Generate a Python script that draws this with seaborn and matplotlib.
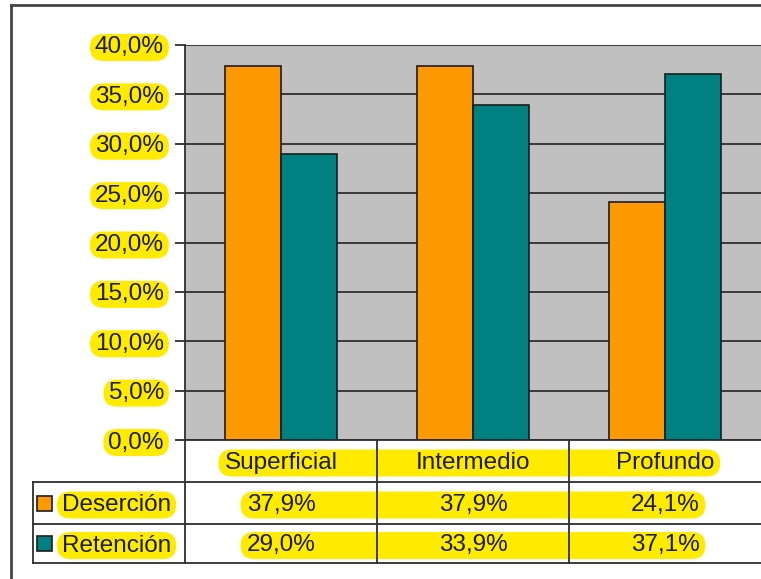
import matplotlib
matplotlib.use("Agg")
import matplotlib.pyplot as plt
from matplotlib.patches import FancyBboxPatch, Rectangle
import pandas as pd
import seaborn as sns

# data
categorias = ["Superficial", "Intermedio", "Profundo"]
series = ["Deserción", "Retención"]
desercion = [37.9, 37.9, 24.1]
retencion = [29.0, 33.9, 37.1]
y_ticks = [0, 5, 10, 15, 20, 25, 30, 35, 40]

colores = ["#FF9900", "#008080"]
amarillo = "#FFEB00"
tinta = "#1c1c1c"
linea = "#2e2e2e"

plt.rcParams["font.family"] = ["Liberation Sans", "DejaVu Sans"]
FS = 17.5

df = pd.DataFrame({
    "nivel": categorias * 2,
    "valor": desercion + retencion,
    "serie": [series[0]] * 3 + [series[1]] * 3,
})

W, H = 761, 579
fig = plt.figure(figsize=(W / 100, H / 100), dpi=100)

# layout in pixels
px_left, px_right = 185, 761
px_top, px_zero = 45, 440
row_lines = [440, 482, 524, 563]
leg_left = 33

ax = fig.add_axes([px_left / W, 1 - px_zero / H, (px_right - px_left) / W,
                   (px_zero - px_top) / H])
ax.set_zorder(1)

# overlay in pixel coords for the table part
ov = fig.add_axes([0, 0, 1, 1])
ov.set_zorder(0)
ov.set_xlim(0, W)
ov.set_ylim(H, 0)
ov.axis("off")
ov.patch.set_alpha(0)

sns.barplot(data=df, x="nivel", y="valor", hue="serie", palette=colores,
            width=0.58, saturation=1, edgecolor=tinta, linewidth=1.2,
            ax=ax, legend=False)

ax.set_facecolor("#C0C0C0")
ax.set_xlim(-0.5, 2.5)
ax.set_ylim(0, 40)
ax.set_xlabel("")
ax.set_ylabel("")
ax.set_yticks(y_ticks)
ax.set_yticklabels([f"{v:.1f}%".replace(".", ",") for v in y_ticks],
                   fontsize=FS, color=tinta)
ax.tick_params(axis="y", length=10 * 0.72, width=1.3, color=linea, pad=8)
ax.tick_params(axis="x", length=0, labelbottom=False)
ax.yaxis.grid(True, color=linea, linewidth=1.3)
ax.set_axisbelow(True)
for s in ["top", "right"]:
    ax.spines[s].set_visible(False)
for s in ["left", "bottom"]:
    ax.spines[s].set_color(linea)
    ax.spines[s].set_linewidth(1.3)

# outer frame (cut off on right and bottom)
ov.plot([11, 11], [5, H], color="#444444", lw=2)
ov.plot([11, W], [5, 5], color="#444444", lw=2)

# table grid
col_w = (px_right - px_left) / len(categorias)
col_edges = [px_left + i * col_w for i in range(len(categorias) + 1)]
for x in col_edges[:-1]:
    ov.plot([x, x], [row_lines[0], row_lines[-1]], color=linea, lw=1.3)
for y in row_lines[1:]:
    ov.plot([leg_left, W], [y, y], color=linea, lw=1.3)
ov.plot([leg_left, leg_left], [row_lines[1], row_lines[-1]], color=linea, lw=1.3)

centers = [px_left + (i + 0.5) * col_w for i in range(len(categorias))]
row_mid = [(row_lines[i] + row_lines[i + 1]) / 2 + 2 for i in range(3)]

row_texts = []
row_texts.append([ov.text(cx, row_mid[0], c, ha="center", va="center",
                          fontsize=FS, color=tinta, zorder=5)
                  for cx, c in zip(centers, categorias)])
for r, vals in enumerate([desercion, retencion]):
    row_texts.append([ov.text(cx, row_mid[r + 1], f"{v:.1f}%".replace(".", ","),
                              ha="center", va="center", fontsize=FS,
                              color=tinta, zorder=5)
                      for cx, v in zip(centers, vals)])

# legend column
leg_texts = []
for r, (name, col) in enumerate(zip(series, colores)):
    ym = row_mid[r + 1] - 2
    ov.add_patch(Rectangle((37, ym - 7.5), 15, 15, facecolor=col,
                           edgecolor=tinta, lw=1.2, zorder=5))
    leg_texts.append(ov.text(62, ym + 2, name, ha="left", va="center",
                             fontsize=FS, color=tinta, zorder=5))

fig.canvas.draw()


def to_px(bb):
    return bb.x0, H - bb.y1, bb.x1, H - bb.y0


def highlight(x0, y0, x1, y1, padx=6, pady=2.5):
    x0, x1 = x0 - padx, x1 + padx
    y0, y1 = y0 - pady, y1 + pady
    r = (y1 - y0) / 2
    ov.add_patch(FancyBboxPatch((x0, y0), x1 - x0, y1 - y0,
                                boxstyle=f"round,pad=0,rounding_size={r}",
                                facecolor=amarillo, edgecolor="none", zorder=1))


for row in row_texts:
    a = to_px(row[0].get_window_extent())
    b = to_px(row[-1].get_window_extent())
    highlight(a[0], a[1], b[2], b[3])
for t in leg_texts:
    highlight(*to_px(t.get_window_extent()), padx=5)
for t in ax.get_yticklabels():
    highlight(*to_px(t.get_window_extent()), padx=5)

fig.savefig("out.png", dpi=100)
